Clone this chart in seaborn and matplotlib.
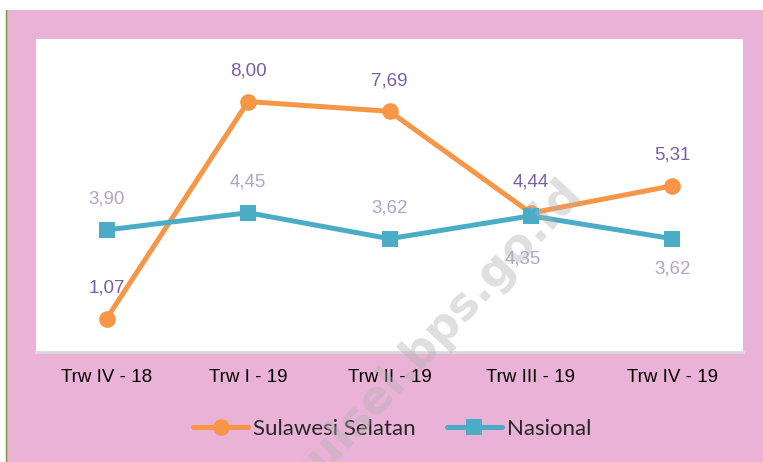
import matplotlib
matplotlib.use("Agg")
import matplotlib.pyplot as plt
import seaborn as sns
import pandas as pd
from matplotlib.patches import Rectangle
from matplotlib.lines import Line2D

# data
quarters = ["Trw IV - 18", "Trw I - 19", "Trw II - 19", "Trw III - 19", "Trw IV - 19"]
sulsel = [1.07, 8.00, 7.69, 4.44, 5.31]
nasional = [3.90, 4.45, 3.62, 4.35, 3.62]
sulsel_labels = ["1,07", "8,00", "7,69", "4,44", "5,31"]
nasional_labels = ["3,90", "4,45", "3,62", "4,35", "3,62"]

# label offsets (points)
sulsel_off = [(0, 22), (0, 22), (0, 22), (0, 22), (0, 22)]
nasional_off = [(0, 22), (0, 22), (0, 22), (-6, -31), (0, -22)]

ORANGE = "#F79646"
BLUE = "#4BACC6"
PINK = "#EAB2D7"
DARK_LBL = "#7B5EA7"
LIGHT_LBL = "#B3A2CC"

sns.set_style("white")
plt.rcParams["font.family"] = ["Liberation Sans Narrow", "Liberation Sans", "DejaVu Sans"]

df = pd.DataFrame({"quarter": quarters, "sulsel": sulsel, "nasional": nasional})

fig = plt.figure(figsize=(7.63, 4.62), dpi=100)
fig.patch.set_facecolor("white")
fig.patches.append(Rectangle((6 / 763, 0), 1, 452 / 462, transform=fig.transFigure,
                             facecolor=PINK, edgecolor="none", zorder=-10))
fig.lines.append(Line2D([6 / 763, 6 / 763], [0, 452 / 462], transform=fig.transFigure,
                        color="#77933C", lw=1))

ax = fig.add_axes([36 / 763, 110 / 462, 707 / 763, 313 / 462])
ax.set_facecolor("white")

sns.lineplot(data=df, x="quarter", y="sulsel", ax=ax, color=ORANGE, lw=3.6,
             marker="o", markersize=12, markeredgewidth=0, sort=False, zorder=3)
sns.lineplot(data=df, x="quarter", y="nasional", ax=ax, color=BLUE, lw=3.6,
             marker="s", markersize=11, markeredgewidth=0, sort=False, zorder=4)

for i, (v, t, o) in enumerate(zip(sulsel, sulsel_labels, sulsel_off)):
    ax.annotate(t, (i, v), xytext=o, textcoords="offset points", ha="center",
                va="center", fontsize=13.5, color=DARK_LBL)
for i, (v, t, o) in enumerate(zip(nasional, nasional_labels, nasional_off)):
    ax.annotate(t, (i, v), xytext=o, textcoords="offset points", ha="center",
                va="center", fontsize=13.5, color=LIGHT_LBL)

ax.set_xlim(-0.5, len(quarters) - 0.5)
ax.set_ylim(0, 10)
ax.set_yticks([])
ax.set_xlabel("")
ax.set_ylabel("")
ax.tick_params(axis="x", length=0, pad=12, labelsize=13.5, colors="black")
for s in ["top", "left", "right"]:
    ax.spines[s].set_visible(False)
ax.spines["bottom"].set_color("#D9D9D9")
ax.spines["bottom"].set_linewidth(2)

handles = [
    Line2D([], [], color=ORANGE, lw=3.6, marker="o", markersize=12, markeredgewidth=0),
    Line2D([], [], color=BLUE, lw=3.6, marker="s", markersize=11, markeredgewidth=0),
]
fig.legend(handles, ["Sulawesi Selatan", "Nasional"], loc="center",
           bbox_to_anchor=(392 / 763, 1 - 429 / 462), ncol=2, frameon=False,
           handlelength=2.5, handletextpad=0.2, columnspacing=1.4,
           prop={"family": "Lato", "size": 16})

# watermark
fig.text(435 / 763, 1 - 335 / 462, "sulsel.bps.go.id", rotation=47, ha="center",
         va="center", fontsize=33, fontweight="bold", color="#B0B0B0", alpha=0.4,
         family="DejaVu Sans", zorder=20)

fig.savefig("out.png", dpi=100)
